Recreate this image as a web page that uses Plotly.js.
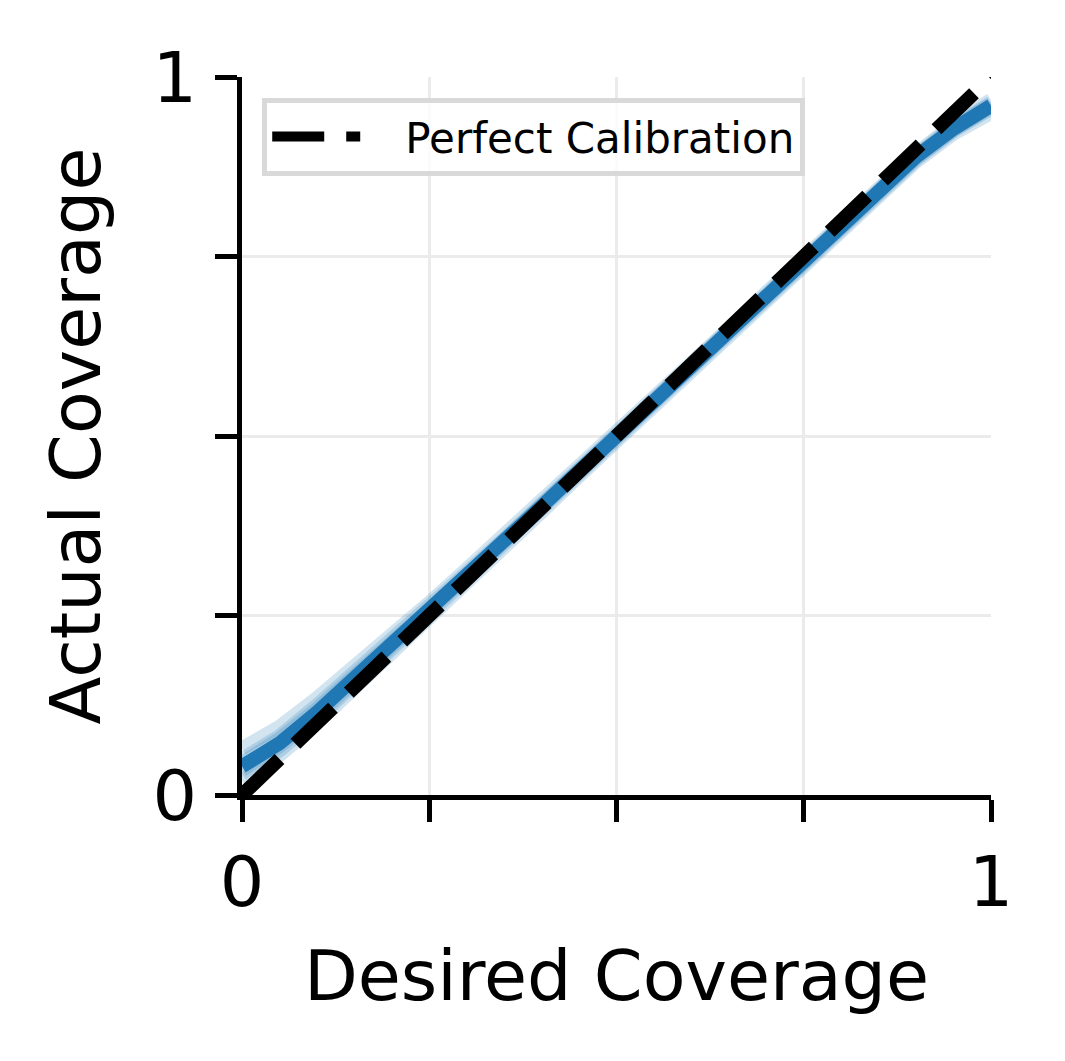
<!DOCTYPE html>
<html>
<head>
<meta charset="utf-8">
<script src="https://cdn.plot.ly/plotly-3.0.1.min.js"></script>
<style>
  html, body { margin: 0; padding: 0; background: #fff; }
  #chart { width: 1065px; height: 1061px; }
</style>
</head>
<body>
<div id="chart"></div>
<script>
// Desired coverage levels
var desired = [0, 0.05, 0.1, 0.15, 0.2, 0.25, 0.3, 0.35, 0.4, 0.45, 0.5,
               0.55, 0.6, 0.65, 0.7, 0.75, 0.8, 0.85, 0.9, 0.95, 1];

// Mean actual coverage
var actualMean = [0.040, 0.072, 0.115, 0.162, 0.208, 0.256, 0.305, 0.353, 0.402, 0.451, 0.500,
                  0.549, 0.597, 0.646, 0.695, 0.744, 0.792, 0.840, 0.889, 0.928, 0.960];

// Individual runs (faint band)
var run1 = [0.065, 0.095, 0.135, 0.178, 0.222, 0.268, 0.315, 0.362, 0.410, 0.458, 0.506,
            0.555, 0.602, 0.650, 0.700, 0.748, 0.796, 0.846, 0.893, 0.935, 0.968];
var run2 = [0.020, 0.055, 0.100, 0.148, 0.196, 0.245, 0.295, 0.344, 0.394, 0.444, 0.493,
            0.542, 0.590, 0.640, 0.688, 0.737, 0.786, 0.834, 0.882, 0.921, 0.950];
var run3 = [0.050, 0.082, 0.125, 0.170, 0.214, 0.262, 0.310, 0.357, 0.405, 0.455, 0.503,
            0.553, 0.600, 0.649, 0.698, 0.747, 0.795, 0.843, 0.891, 0.932, 0.964];
var run4 = [0.030, 0.062, 0.106, 0.154, 0.202, 0.250, 0.299, 0.349, 0.398, 0.447, 0.496,
            0.545, 0.594, 0.642, 0.691, 0.740, 0.789, 0.837, 0.885, 0.925, 0.956];
var run5 = [0.045, 0.078, 0.120, 0.165, 0.211, 0.259, 0.307, 0.355, 0.404, 0.452, 0.501,
            0.551, 0.598, 0.647, 0.696, 0.745, 0.793, 0.841, 0.890, 0.930, 0.962];
var run6 = [0.035, 0.068, 0.110, 0.158, 0.205, 0.253, 0.302, 0.351, 0.400, 0.449, 0.498,
            0.547, 0.596, 0.644, 0.693, 0.742, 0.790, 0.839, 0.887, 0.926, 0.958];

// Perfect calibration line
var perfectX = [0, 1];
var perfectY = [0, 1];

var tickVals = [0, 0.25, 0.5, 0.75, 1];
var tickText = ['0', '', '', '', '1'];

var runs = [run1, run2, run3, run4, run5, run6];
var data = runs.map(function (r) {
    return {
        x: desired, y: r, type: 'scatter', mode: 'lines',
        line: { color: 'rgba(31,119,180,0.2)', width: 14 },
        showlegend: false, hoverinfo: 'skip'
    };
});

data.push({
    x: desired, y: actualMean, type: 'scatter', mode: 'lines',
    line: { color: '#1f77b4', width: 14 },
    showlegend: false
});

// non-breaking spaces push the label right, like matplotlib's handle padding
data.push({
    x: perfectX, y: perfectY, type: 'scatter', mode: 'lines',
    name: '\u00a0\u00a0\u00a0Perfect Calibration',
    line: { color: '#000000', width: 14, dash: '52px,22px' }
});

var axisCommon = {
    range: [0, 1],
    tickvals: tickVals,
    ticktext: tickText,
    ticks: 'outside',
    ticklen: 22,
    tickwidth: 5,
    tickcolor: '#000',
    showline: true,
    linewidth: 5,
    linecolor: '#000',
    showgrid: true,
    gridcolor: '#ebebeb',
    gridwidth: 3,
    zeroline: false,
    tickfont: { size: 70, color: '#000' }
};

var layout = {
    width: 1065,
    height: 1061,
    margin: { l: 242, r: 74, t: 77, b: 266 },
    paper_bgcolor: '#fff',
    plot_bgcolor: '#fff',
    font: { family: 'DejaVu Sans', color: '#000' },
    xaxis: Object.assign({}, axisCommon, {
        title: { text: 'Desired Coverage', font: { size: 70 }, standoff: 30 }
    }),
    yaxis: Object.assign({}, axisCommon, {
        ticklabelstandoff: 4,
        title: { text: 'Actual Coverage', font: { size: 70 }, standoff: 30 }
    }),
    legend: {
        x: 0.027, y: 0.971, xanchor: 'left', yanchor: 'top',
        bgcolor: 'rgba(255,255,255,0.8)',
        bordercolor: '#d9d9d9', borderwidth: 5,
        font: { size: 42 },
        itemwidth: 88
    }
};

Plotly.newPlot('chart', data, layout, { staticPlot: true });
</script>
</body>
</html>
